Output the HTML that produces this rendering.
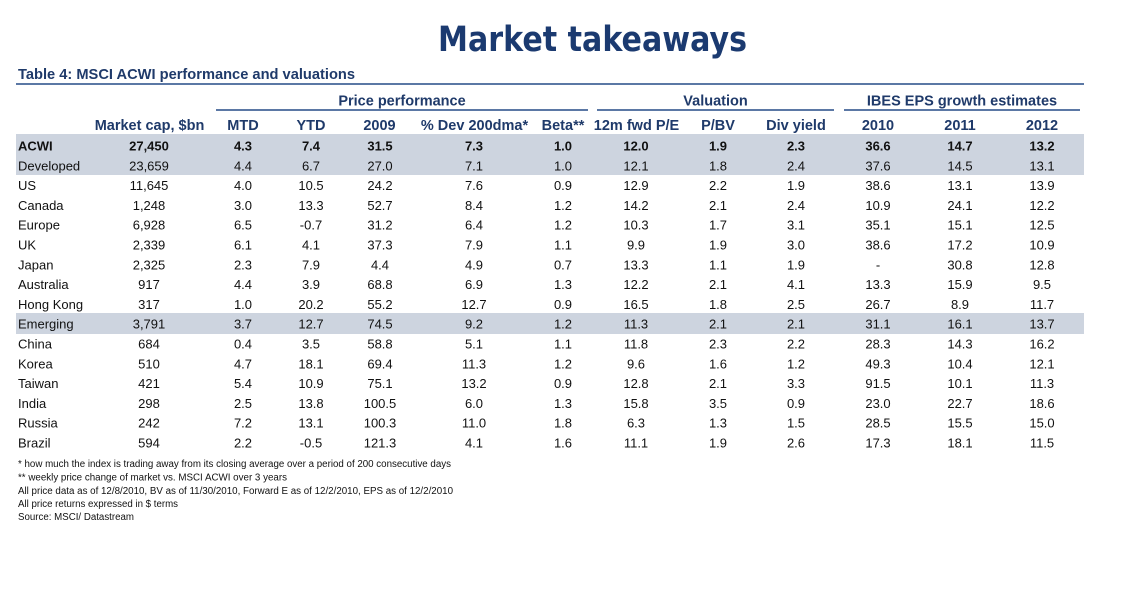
<!DOCTYPE html>
<html><head><meta charset="utf-8"><style>
html,body{margin:0;padding:0;background:#fff;}
svg{display:block;}
.t{font-family:"Liberation Sans",Arial,sans-serif;}
.h{font-family:"Liberation Sans",Arial,sans-serif;font-weight:bold;font-size:14.5px;fill:#1f3a6a;text-anchor:middle;}
.d{font-family:"Liberation Sans",Arial,sans-serif;font-size:13px;fill:#111;text-anchor:middle;}
.l{font-family:"Liberation Sans",Arial,sans-serif;font-size:13px;fill:#111;}
.f{font-family:"Liberation Sans",Arial,sans-serif;font-size:10px;fill:#111;}
</style></head><body>
<svg width="1135" height="614" viewBox="0 0 1135 614" xmlns="http://www.w3.org/2000/svg">
<rect width="1135" height="614" fill="#fff"/>
<text x="438" y="51" font-family="DejaVu Sans, Liberation Sans, sans-serif" font-weight="bold" font-size="35" fill="#1b3a70" textLength="309" lengthAdjust="spacingAndGlyphs">Market takeaways</text>
<text x="18" y="79" class="t" font-weight="bold" font-size="14.6" fill="#1f3a6a" textLength="337" lengthAdjust="spacingAndGlyphs">Table 4: MSCI ACWI performance and valuations</text>
<rect x="16" y="83" width="1068" height="2" fill="#5b78a5"/>
<rect x="216" y="109" width="372" height="2" fill="#5b78a5"/>
<rect x="597" y="109" width="237" height="2" fill="#5b78a5"/>
<rect x="844" y="109" width="236" height="2" fill="#5b78a5"/>
<text y="105.5" class="h"><tspan x="402">Price performance</tspan><tspan x="715.5">Valuation</tspan><tspan x="962">IBES EPS growth estimates</tspan></text>
<rect x="16" y="134" width="1068" height="41" fill="#cdd4df"/>
<rect x="16" y="313" width="1068" height="21" fill="#cdd4df"/>
<text y="130" class="h"><tspan x="149.5">Market cap, $bn</tspan><tspan x="243">MTD</tspan><tspan x="311">YTD</tspan><tspan x="379.5">2009</tspan><tspan x="474.5">% Dev 200dma*</tspan><tspan x="563">Beta**</tspan><tspan x="636.5">12m fwd P/E</tspan><tspan x="718">P/BV</tspan><tspan x="796">Div yield</tspan><tspan x="878">2010</tspan><tspan x="960">2011</tspan><tspan x="1042">2012</tspan></text>

<g>
<text x="18" y="150.5" class="l" font-weight="bold">ACWI</text>
<text y="150.5" class="d" font-weight="bold"><tspan x="149">27,450</tspan><tspan x="243">4.3</tspan><tspan x="311">7.4</tspan><tspan x="380">31.5</tspan><tspan x="474">7.3</tspan><tspan x="563">1.0</tspan><tspan x="636">12.0</tspan><tspan x="718">1.9</tspan><tspan x="796">2.3</tspan><tspan x="878">36.6</tspan><tspan x="960">14.7</tspan><tspan x="1042">13.2</tspan></text>

<text x="18" y="170.3" class="l">Developed</text>
<text y="170.3" class="d"><tspan x="149">23,659</tspan><tspan x="243">4.4</tspan><tspan x="311">6.7</tspan><tspan x="380">27.0</tspan><tspan x="474">7.1</tspan><tspan x="563">1.0</tspan><tspan x="636">12.1</tspan><tspan x="718">1.8</tspan><tspan x="796">2.4</tspan><tspan x="878">37.6</tspan><tspan x="960">14.5</tspan><tspan x="1042">13.1</tspan></text>

<text x="18" y="190.1" class="l">US</text>
<text y="190.1" class="d"><tspan x="149">11,645</tspan><tspan x="243">4.0</tspan><tspan x="311">10.5</tspan><tspan x="380">24.2</tspan><tspan x="474">7.6</tspan><tspan x="563">0.9</tspan><tspan x="636">12.9</tspan><tspan x="718">2.2</tspan><tspan x="796">1.9</tspan><tspan x="878">38.6</tspan><tspan x="960">13.1</tspan><tspan x="1042">13.9</tspan></text>

<text x="18" y="209.9" class="l">Canada</text>
<text y="209.9" class="d"><tspan x="149">1,248</tspan><tspan x="243">3.0</tspan><tspan x="311">13.3</tspan><tspan x="380">52.7</tspan><tspan x="474">8.4</tspan><tspan x="563">1.2</tspan><tspan x="636">14.2</tspan><tspan x="718">2.1</tspan><tspan x="796">2.4</tspan><tspan x="878">10.9</tspan><tspan x="960">24.1</tspan><tspan x="1042">12.2</tspan></text>

<text x="18" y="229.7" class="l">Europe</text>
<text y="229.7" class="d"><tspan x="149">6,928</tspan><tspan x="243">6.5</tspan><tspan x="311">-0.7</tspan><tspan x="380">31.2</tspan><tspan x="474">6.4</tspan><tspan x="563">1.2</tspan><tspan x="636">10.3</tspan><tspan x="718">1.7</tspan><tspan x="796">3.1</tspan><tspan x="878">35.1</tspan><tspan x="960">15.1</tspan><tspan x="1042">12.5</tspan></text>

<text x="18" y="249.5" class="l">UK</text>
<text y="249.5" class="d"><tspan x="149">2,339</tspan><tspan x="243">6.1</tspan><tspan x="311">4.1</tspan><tspan x="380">37.3</tspan><tspan x="474">7.9</tspan><tspan x="563">1.1</tspan><tspan x="636">9.9</tspan><tspan x="718">1.9</tspan><tspan x="796">3.0</tspan><tspan x="878">38.6</tspan><tspan x="960">17.2</tspan><tspan x="1042">10.9</tspan></text>

<text x="18" y="269.3" class="l">Japan</text>
<text y="269.3" class="d"><tspan x="149">2,325</tspan><tspan x="243">2.3</tspan><tspan x="311">7.9</tspan><tspan x="380">4.4</tspan><tspan x="474">4.9</tspan><tspan x="563">0.7</tspan><tspan x="636">13.3</tspan><tspan x="718">1.1</tspan><tspan x="796">1.9</tspan><tspan x="878">-</tspan><tspan x="960">30.8</tspan><tspan x="1042">12.8</tspan></text>

<text x="18" y="289.1" class="l">Australia</text>
<text y="289.1" class="d"><tspan x="149">917</tspan><tspan x="243">4.4</tspan><tspan x="311">3.9</tspan><tspan x="380">68.8</tspan><tspan x="474">6.9</tspan><tspan x="563">1.3</tspan><tspan x="636">12.2</tspan><tspan x="718">2.1</tspan><tspan x="796">4.1</tspan><tspan x="878">13.3</tspan><tspan x="960">15.9</tspan><tspan x="1042">9.5</tspan></text>

<text x="18" y="308.9" class="l">Hong Kong</text>
<text y="308.9" class="d"><tspan x="149">317</tspan><tspan x="243">1.0</tspan><tspan x="311">20.2</tspan><tspan x="380">55.2</tspan><tspan x="474">12.7</tspan><tspan x="563">0.9</tspan><tspan x="636">16.5</tspan><tspan x="718">1.8</tspan><tspan x="796">2.5</tspan><tspan x="878">26.7</tspan><tspan x="960">8.9</tspan><tspan x="1042">11.7</tspan></text>

<text x="18" y="328.7" class="l">Emerging</text>
<text y="328.7" class="d"><tspan x="149">3,791</tspan><tspan x="243">3.7</tspan><tspan x="311">12.7</tspan><tspan x="380">74.5</tspan><tspan x="474">9.2</tspan><tspan x="563">1.2</tspan><tspan x="636">11.3</tspan><tspan x="718">2.1</tspan><tspan x="796">2.1</tspan><tspan x="878">31.1</tspan><tspan x="960">16.1</tspan><tspan x="1042">13.7</tspan></text>

<text x="18" y="348.5" class="l">China</text>
<text y="348.5" class="d"><tspan x="149">684</tspan><tspan x="243">0.4</tspan><tspan x="311">3.5</tspan><tspan x="380">58.8</tspan><tspan x="474">5.1</tspan><tspan x="563">1.1</tspan><tspan x="636">11.8</tspan><tspan x="718">2.3</tspan><tspan x="796">2.2</tspan><tspan x="878">28.3</tspan><tspan x="960">14.3</tspan><tspan x="1042">16.2</tspan></text>

<text x="18" y="368.3" class="l">Korea</text>
<text y="368.3" class="d"><tspan x="149">510</tspan><tspan x="243">4.7</tspan><tspan x="311">18.1</tspan><tspan x="380">69.4</tspan><tspan x="474">11.3</tspan><tspan x="563">1.2</tspan><tspan x="636">9.6</tspan><tspan x="718">1.6</tspan><tspan x="796">1.2</tspan><tspan x="878">49.3</tspan><tspan x="960">10.4</tspan><tspan x="1042">12.1</tspan></text>

<text x="18" y="388.1" class="l">Taiwan</text>
<text y="388.1" class="d"><tspan x="149">421</tspan><tspan x="243">5.4</tspan><tspan x="311">10.9</tspan><tspan x="380">75.1</tspan><tspan x="474">13.2</tspan><tspan x="563">0.9</tspan><tspan x="636">12.8</tspan><tspan x="718">2.1</tspan><tspan x="796">3.3</tspan><tspan x="878">91.5</tspan><tspan x="960">10.1</tspan><tspan x="1042">11.3</tspan></text>

<text x="18" y="407.9" class="l">India</text>
<text y="407.9" class="d"><tspan x="149">298</tspan><tspan x="243">2.5</tspan><tspan x="311">13.8</tspan><tspan x="380">100.5</tspan><tspan x="474">6.0</tspan><tspan x="563">1.3</tspan><tspan x="636">15.8</tspan><tspan x="718">3.5</tspan><tspan x="796">0.9</tspan><tspan x="878">23.0</tspan><tspan x="960">22.7</tspan><tspan x="1042">18.6</tspan></text>

<text x="18" y="427.7" class="l">Russia</text>
<text y="427.7" class="d"><tspan x="149">242</tspan><tspan x="243">7.2</tspan><tspan x="311">13.1</tspan><tspan x="380">100.3</tspan><tspan x="474">11.0</tspan><tspan x="563">1.8</tspan><tspan x="636">6.3</tspan><tspan x="718">1.3</tspan><tspan x="796">1.5</tspan><tspan x="878">28.5</tspan><tspan x="960">15.5</tspan><tspan x="1042">15.0</tspan></text>

<text x="18" y="447.5" class="l">Brazil</text>
<text y="447.5" class="d"><tspan x="149">594</tspan><tspan x="243">2.2</tspan><tspan x="311">-0.5</tspan><tspan x="380">121.3</tspan><tspan x="474">4.1</tspan><tspan x="563">1.6</tspan><tspan x="636">11.1</tspan><tspan x="718">1.9</tspan><tspan x="796">2.6</tspan><tspan x="878">17.3</tspan><tspan x="960">18.1</tspan><tspan x="1042">11.5</tspan></text>
</g>

<text x="18" y="467" class="f" textLength="433" lengthAdjust="spacingAndGlyphs">* how much the index is trading away from its closing average over a period of 200 consecutive days</text>
<text x="18" y="480.5" class="f" textLength="269" lengthAdjust="spacingAndGlyphs">** weekly price change of market vs. MSCI ACWI over 3 years</text>
<text x="18" y="494" class="f" textLength="435" lengthAdjust="spacingAndGlyphs">All price data as of 12/8/2010, BV as of 11/30/2010, Forward E as of 12/2/2010, EPS as of 12/2/2010</text>
<text x="18" y="507" class="f" textLength="160" lengthAdjust="spacingAndGlyphs">All price returns expressed in $ terms</text>
<text x="18" y="520" class="f" textLength="116" lengthAdjust="spacingAndGlyphs">Source: MSCI/ Datastream</text>
</svg>
</body></html>
